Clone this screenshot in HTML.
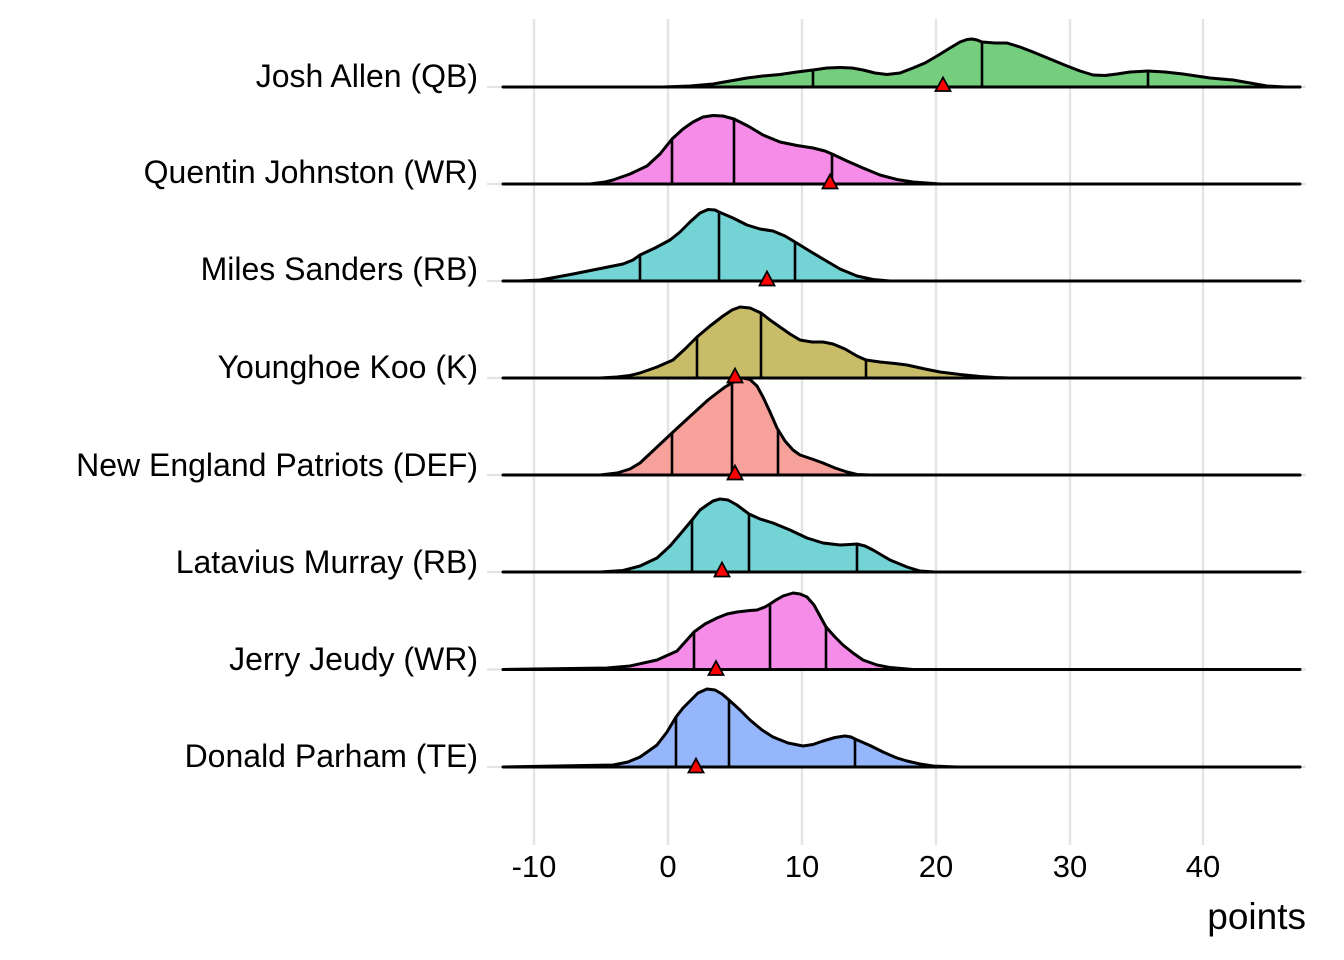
<!DOCTYPE html>
<html>
<head>
<meta charset="utf-8">
<style>
  html, body { margin: 0; padding: 0; background: #ffffff; }
  svg { display: block; }
  text { font-family: "Liberation Sans", Arial, Helvetica, sans-serif; fill: #000; }
</style>
</head>
<body>
<svg width="1344" height="960" viewBox="0 0 1344 960" xmlns="http://www.w3.org/2000/svg">
  <rect x="0" y="0" width="1344" height="960" fill="#ffffff"/>

  <!-- vertical grid -->
  <g stroke="#e3e3e3" stroke-width="2.4">
    <line x1="534" y1="19" x2="534" y2="845"/>
    <line x1="668" y1="19" x2="668" y2="845"/>
    <line x1="802" y1="19" x2="802" y2="845"/>
    <line x1="936" y1="19" x2="936" y2="845"/>
    <line x1="1070" y1="19" x2="1070" y2="845"/>
    <line x1="1203" y1="19" x2="1203" y2="845"/>
  </g>
  <!-- horizontal grid -->
  <g stroke="#e3e3e3" stroke-width="2.2">
    <line x1="487" y1="87" x2="1306" y2="87"/>
    <line x1="487" y1="184" x2="1306" y2="184"/>
    <line x1="487" y1="281" x2="1306" y2="281"/>
    <line x1="487" y1="378" x2="1306" y2="378"/>
    <line x1="487" y1="475" x2="1306" y2="475"/>
    <line x1="487" y1="572" x2="1306" y2="572"/>
    <line x1="487" y1="669.5" x2="1306" y2="669.5"/>
    <line x1="487" y1="767" x2="1306" y2="767"/>
  </g>

  <g stroke="#000" stroke-width="3" stroke-linejoin="round" stroke-linecap="butt">
    <!-- Josh Allen (QB) -->
    <path fill="#74ce7e" d="M503,87 L663,87 L690,86 L713,84 L730,81 L747,78 L763,76 L780,74.5 L797,72 L813,70 L827,68 L840,67.5 L852,68 L863,70 L875,73 L887,74.5 L900,73 L913,68 L925,63 L937,56 L950,48 L960,42 L967,39.5 L972,39 L977,40 L982,42 L995,43 L1007,43 L1020,47 L1033,52 L1050,59 L1067,66 L1080,71 L1093,75 L1105,75.5 L1117,74 L1130,72 L1148,71 L1165,72 L1183,74 L1210,78 L1233,80 L1250,83 L1267,86 L1285,87 L1300,87 Z"/>
    <line x1="813" y1="87" x2="813" y2="70" stroke-width="2.6"/>
    <line x1="982" y1="87" x2="982" y2="42" stroke-width="2.6"/>
    <line x1="1148" y1="87" x2="1148" y2="71" stroke-width="2.6"/>

    <!-- Quentin Johnston (WR) -->
    <path fill="#f48ce8" d="M503,184 L590,184 L605,182 L613,180 L630,174 L647,166 L660,154 L672,139 L683,129 L693,122 L703,117 L713,115.5 L723,116 L734,119 L748,126 L763,135 L780,142 L797,145.5 L813,148 L825,151 L832,154 L847,161 L863,168 L880,175 L897,179.5 L913,182 L940,184 L1300,184 Z"/>
    <line x1="672" y1="184" x2="672" y2="139" stroke-width="2.6"/>
    <line x1="734" y1="184" x2="734" y2="119" stroke-width="2.6"/>
    <line x1="832" y1="184" x2="832" y2="154" stroke-width="2.6"/>

    <!-- Miles Sanders (RB) -->
    <path fill="#74d3d5" d="M503,281 L520,281 L540,280 L557,277 L573,274 L598,269 L623,264 L633,260 L640,255 L655,248 L670,240 L680,232 L690,222 L700,213 L708,209.5 L715,210 L719,212 L733,218 L747,225 L760,229 L773,231 L785,236 L795,242 L808,250 L823,259 L840,269 L857,276 L873,279.5 L890,281 L1300,281 Z"/>
    <line x1="640" y1="281" x2="640" y2="255" stroke-width="2.6"/>
    <line x1="719" y1="281" x2="719" y2="212" stroke-width="2.6"/>
    <line x1="795" y1="281" x2="795" y2="242" stroke-width="2.6"/>

    <!-- Younghoe Koo (K) -->
    <path fill="#c9bc69" d="M503,378 L600,378 L617,377 L630,375.5 L640,373 L657,367 L673,360 L685,349 L697,337 L710,326 L723,316 L732,310 L740,307 L750,308 L761,313 L770,320 L780,327 L790,334 L800,340 L812,342 L823,342 L833,344 L845,349 L857,356 L866,360 L880,362 L895,363.5 L907,365 L925,369 L940,372 L960,374.5 L980,376.5 L995,377.5 L1010,378 L1300,378 Z"/>
    <line x1="697" y1="378" x2="697" y2="337" stroke-width="2.6"/>
    <line x1="761" y1="378" x2="761" y2="313" stroke-width="2.6"/>
    <line x1="866" y1="378" x2="866" y2="360" stroke-width="2.6"/>

    <!-- New England Patriots (DEF) -->
    <path fill="#f7a19b" d="M503,475 L600,475 L617,473 L630,469 L640,463 L656,448 L672,433 L685,421 L697,410 L708,400 L717,393 L725,387 L732,383 L738,379 L743,378 L750,379.5 L757,386 L763,397 L770,412 L777,428 L785,441 L793,450 L800,455 L812,459 L823,463 L835,468 L847,472 L857,474.5 L870,475 L1300,475 Z"/>
    <line x1="672" y1="475" x2="672" y2="433" stroke-width="2.6"/>
    <line x1="732" y1="475" x2="732" y2="383" stroke-width="2.6"/>
    <line x1="778" y1="475" x2="778" y2="430" stroke-width="2.6"/>

    <!-- Latavius Murray (RB) -->
    <path fill="#74d3d5" d="M503,572 L600,572 L623,570.5 L640,566 L657,558 L670,546 L682,532 L692,520 L700,510 L707,505 L713,501 L720,499 L728,500 L737,505 L749,514 L760,519 L773,523 L790,530 L807,538 L823,543 L840,545 L850,544.5 L857,544 L865,546 L873,550 L890,560 L907,567 L920,571 L935,572 L1300,572 Z"/>
    <line x1="692" y1="572" x2="692" y2="520" stroke-width="2.6"/>
    <line x1="749" y1="572" x2="749" y2="514" stroke-width="2.6"/>
    <line x1="857" y1="572" x2="857" y2="544" stroke-width="2.6"/>

    <!-- Jerry Jeudy (WR) -->
    <path fill="#f48ce8" d="M503,669.5 L607,668 L630,666 L657,660 L677,651 L694,632 L705,624 L717,618 L727,614 L737,612 L750,610.5 L757,610 L765,607 L770,604 L776,600 L783,596 L793,593 L800,594 L807,597 L814,605 L820,616 L826,627 L835,637 L843,645 L853,653 L863,660 L877,665 L890,667.5 L913,669.5 L1300,669.5 Z"/>
    <line x1="694" y1="669.5" x2="694" y2="632" stroke-width="2.6"/>
    <line x1="770" y1="669.5" x2="770" y2="604" stroke-width="2.6"/>
    <line x1="826" y1="669.5" x2="826" y2="627" stroke-width="2.6"/>

    <!-- Donald Parham (TE) -->
    <path fill="#96b6fb" d="M503,767 L613,765 L628,762 L640,757 L650,750 L657,745 L667,732 L676,717 L683,708 L690,701 L698,693 L707,689 L715,690 L722,694 L729,700 L740,710 L750,720 L762,730 L773,737 L788,743 L803,746 L813,744.5 L823,741 L835,737.5 L845,736 L851,737 L855,739 L870,745.5 L883,752 L897,758 L907,761 L920,764 L933,766 L957,767 L1300,767 Z"/>
    <line x1="676" y1="767" x2="676" y2="717" stroke-width="2.6"/>
    <line x1="729" y1="767" x2="729" y2="700" stroke-width="2.6"/>
    <line x1="855" y1="767" x2="855" y2="739" stroke-width="2.6"/>
  </g>

  <!-- mean triangles -->
  <g fill="#ff0000" stroke="#000" stroke-width="1.8" stroke-linejoin="miter">
    <polygon points="943,77.5 950.5,91 935.5,91"/>
    <polygon points="830,174.5 837.5,188.5 822.5,188.5"/>
    <polygon points="767,271.5 774.5,285.5 759.5,285.5"/>
    <polygon points="735,368.5 742.5,382.5 727.5,382.5"/>
    <polygon points="735,465.5 742.5,479.5 727.5,479.5"/>
    <polygon points="722,562.5 729.5,576.5 714.5,576.5"/>
    <polygon points="716,661 723.5,675 708.5,675"/>
    <polygon points="696,758.5 703.5,772.5 688.5,772.5"/>
  </g>

  <!-- y labels -->
  <g font-size="32" text-anchor="end">
    <text x="478" y="87">Josh Allen (QB)</text>
    <text x="478" y="183">Quentin Johnston (WR)</text>
    <text x="478" y="280">Miles Sanders (RB)</text>
    <text x="478" y="378">Younghoe Koo (K)</text>
    <text x="478" y="476">New England Patriots (DEF)</text>
    <text x="478" y="573">Latavius Murray (RB)</text>
    <text x="478" y="670">Jerry Jeudy (WR)</text>
    <text x="478" y="767">Donald Parham (TE)</text>
  </g>

  <!-- x tick labels -->
  <g font-size="31" text-anchor="middle">
    <text x="534" y="877">-10</text>
    <text x="668" y="877">0</text>
    <text x="802" y="877">10</text>
    <text x="936" y="877">20</text>
    <text x="1070" y="877">30</text>
    <text x="1203" y="877">40</text>
  </g>

  <text x="1306" y="929" font-size="37" text-anchor="end">points</text>
</svg>
</body>
</html>
